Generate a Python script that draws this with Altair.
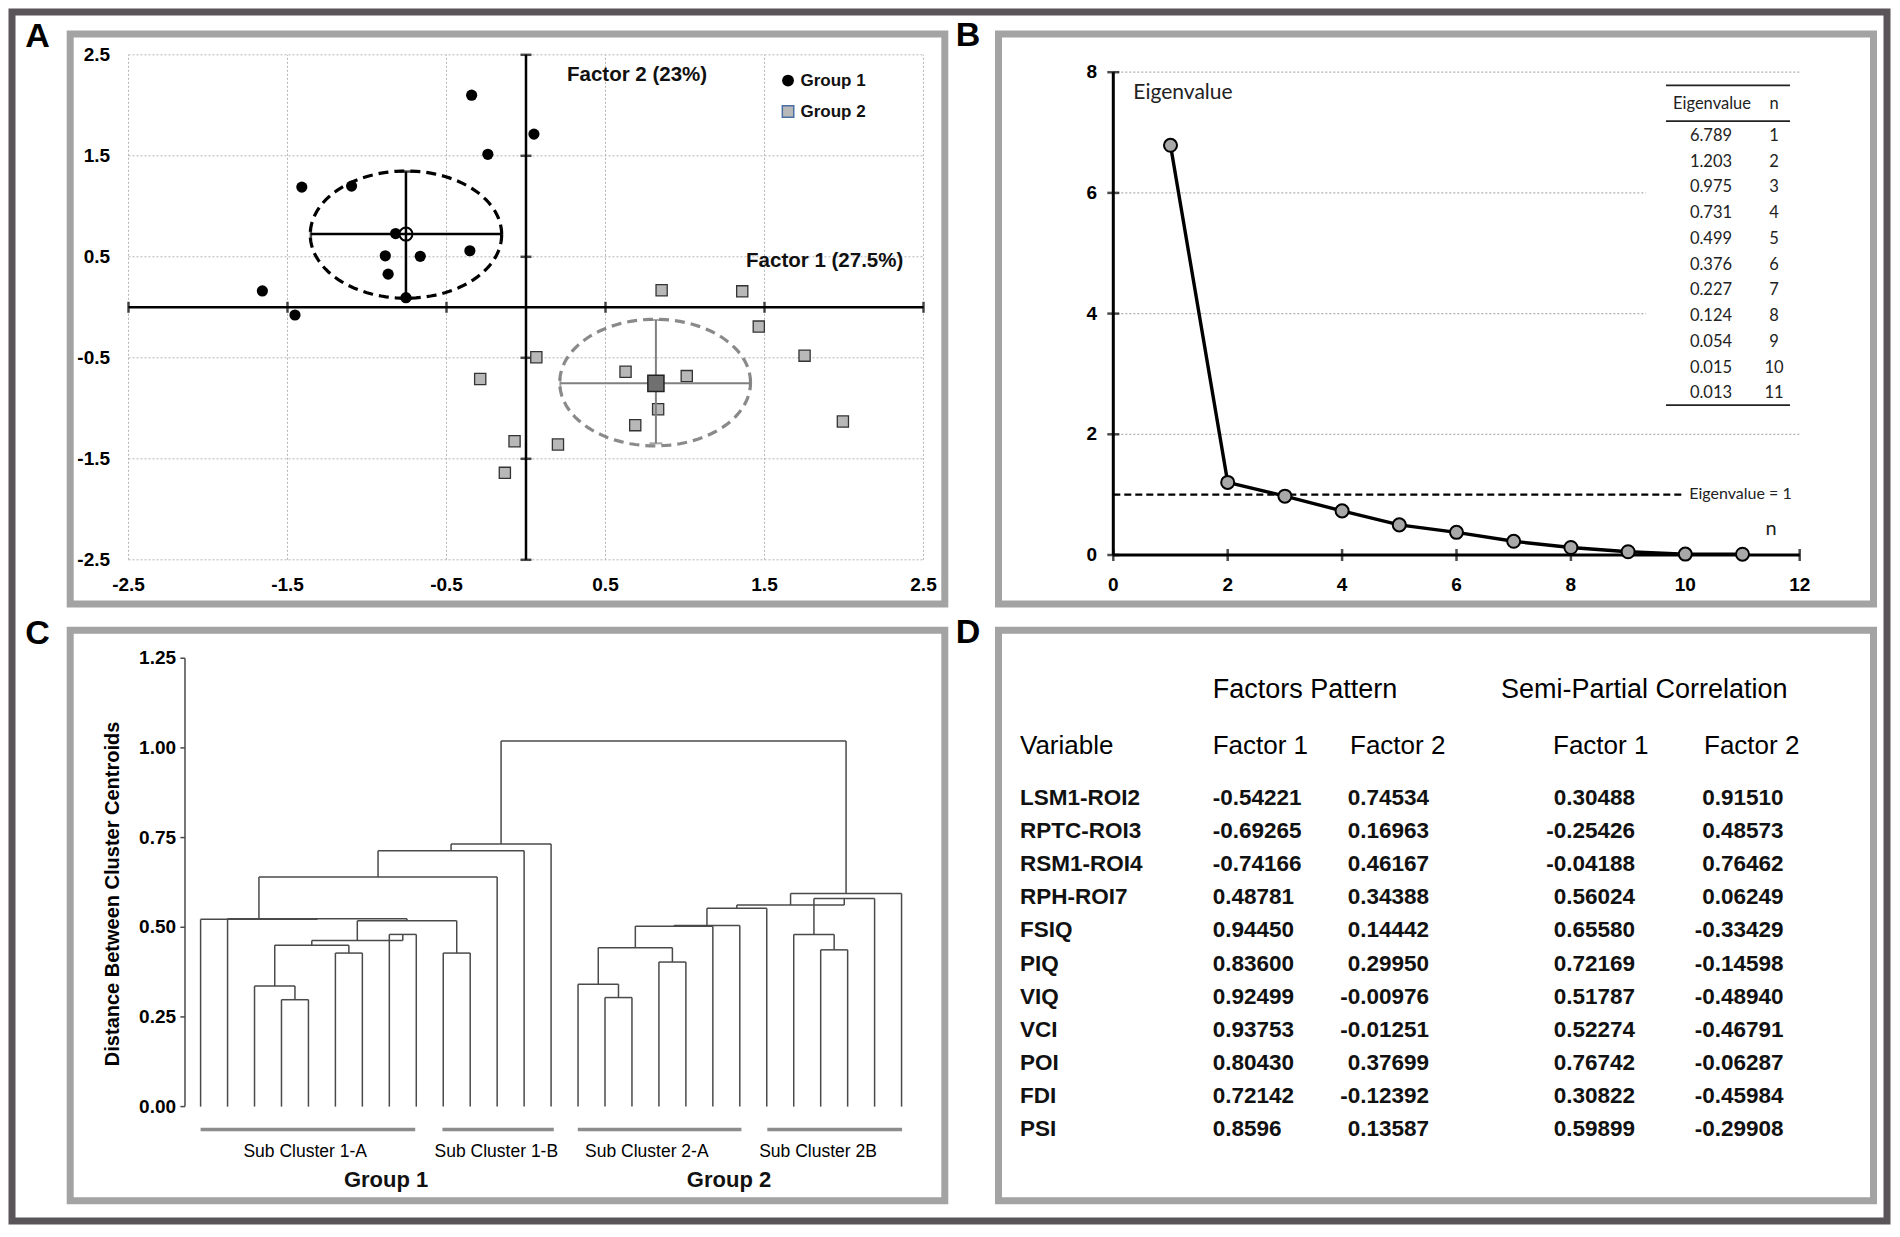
import altair as alt
import pandas as pd

# ======================= DATA =======================
# Panel A - factor scores of subjects
A_G1_X = [-0.342, 0.050, -0.240, -1.410, -1.097, -0.820, -0.885, -0.665, -0.353, -0.867, -1.658, -1.453, -0.755]
A_G1_Y = [2.100, 1.715, 1.515, 1.190, 1.200, 0.730, 0.510, 0.505, 0.560, 0.328, 0.162, -0.076, 0.095]
A_G2_X = [0.853, 1.360, 1.464, 1.752, 0.065, 0.626, 1.011, -0.288, 0.831, 0.687, 1.993, -0.072, 0.201, -0.133]
A_G2_Y = [0.169, 0.158, -0.191, -0.479, -0.494, -0.638, -0.681, -0.710, -1.009, -1.167, -1.131, -1.326, -1.358, -1.639]
A_GROUPS = ["Group 1", "Group 2"]
A_CENT_X = [-0.755, 0.817]
A_CENT_Y = [0.725, -0.753]
A_SD_X_LO = [-1.353, 0.216]
A_SD_X_HI = [-0.155, 1.410]
A_SD_Y_LO = [0.090, -1.347]
A_SD_Y_HI = [1.344, -0.126]
A_ELL_CX = [-0.755, 0.812]
A_ELL_CY = [0.720, -0.745]
A_ELL_RX = [0.602, 0.600]
A_ELL_RY = [0.630, 0.627]
A_TICKS = [-2.5, -1.5, -0.5, 0.5, 1.5, 2.5]
A_TICK_LABELS = ["-2.5", "-1.5", "-0.5", "0.5", "1.5", "2.5"]

# Panel B - scree plot
B_N = [1, 2, 3, 4, 5, 6, 7, 8, 9, 10, 11]
B_EIG = [6.789, 1.203, 0.975, 0.731, 0.499, 0.376, 0.227, 0.124, 0.054, 0.015, 0.013]
B_XTICKS = [0, 2, 4, 6, 8, 10, 12]
B_YTICKS = [0, 2, 4, 6, 8]

# Panel C - dendrogram (27 leaves; merges: child a, child b, height; new ids from 27)
C_N_LEAVES = 27
C_MERGES = [
    (3, 4, 0.298), (2, 27, 0.336), (5, 6, 0.428), (28, 29, 0.450), (7, 8, 0.480),
    (30, 31, 0.463), (9, 10, 0.428), (32, 33, 0.518), (1, 34, 0.524), (0, 35, 0.522),
    (36, 11, 0.640), (37, 12, 0.713), (38, 13, 0.732),
    (15, 16, 0.304), (14, 40, 0.341), (17, 18, 0.403), (41, 42, 0.443), (43, 19, 0.503),
    (44, 20, 0.505), (45, 21, 0.553), (23, 24, 0.437), (22, 47, 0.480), (48, 25, 0.580),
    (46, 49, 0.562), (50, 26, 0.594), (39, 51, 1.019),
]
C_YTICKS = [0.0, 0.25, 0.5, 0.75, 1.0, 1.25]
C_YTICK_LABELS = ["0.00", "0.25", "0.50", "0.75", "1.00", "1.25"]
C_SUB_LABELS = ["Sub Cluster 1-A", "Sub Cluster 1-B", "Sub Cluster 2-A", "Sub Cluster 2B"]
C_SUB_START = [0.0, 8.97, 13.99, 21.02]
C_SUB_END = [7.96, 13.10, 20.06, 26.02]
C_SUB_CENTER = [3.88, 10.97, 16.55, 22.9]
C_GROUP_LABELS = ["Group 1", "Group 2"]
C_GROUP_CENTER = [6.88, 19.6]

# Panel D - table
D_VARS = ["LSM1-ROI2", "RPTC-ROI3", "RSM1-ROI4", "RPH-ROI7", "FSIQ", "PIQ", "VIQ", "VCI", "POI", "FDI", "PSI"]
D_FP1 = ["-0.54221", "-0.69265", "-0.74166", "\u00a00.48781", "\u00a00.94450", "0.83600", "0.92499", "0.93753", "0.80430", "0.72142", "0.8596"]
D_FP2 = ["0.74534", "0.16963", "0.46167", "0.34388", "0.14442", "0.29950", "-0.00976", "-0.01251", "0.37699", "-0.12392", "0.13587"]
D_SP1 = ["0.30488", "-0.25426", "-0.04188", "0.56024", "0.65580", "0.72169", "0.51787", "0.52274", "0.76742", "0.30822", "0.59899"]
D_SP2 = ["0.91510", "0.48573", "0.76462", "0.06249", "-0.33429", "-0.14598", "-0.48940", "-0.46791", "-0.06287", "-0.45984", "-0.29908"]

# ======================= LAYOUT =======================
O = 12            # plot-area origin on the page
W, H = 1875, 1209
FONT = "Liberation Sans"
CAL = "Lato"


def sx(v0, p0, v1, p1):
    k = (v1 - v0) / (p1 - p0)
    return alt.Scale(domain=[v0 + (O - p0) * k, v0 + (O + W - p0) * k], nice=False, zero=False)


def sy(v0, p0, v1, p1):
    k = (v1 - v0) / (p1 - p0)
    return alt.Scale(domain=[v0 + (O + H - p0) * k, v0 + (O - p0) * k], nice=False, zero=False)


def qx(f, s):
    return alt.X(f, type="quantitative", scale=s, axis=None)


def qy(f, s):
    return alt.Y(f, type="quantitative", scale=s, axis=None)


def px(p):
    return alt.value(p - O)


AX = sx(0, 526, 1, 685)
AY = sy(0, 307.3, 1, 206.3)
BX = sx(0, 1113.3, 1, 1170.5)
BY = sy(0, 555, 1, 494.65)
BT = sy(0, 136, 1, 161.73)
CX = sx(0, 200.6, 1, 227.56)
CY = sy(0, 1106.6, 1, 747.9)
DY = sy(0, 798, 1, 831.1)

one = pd.DataFrame({"k": [0]})
layers = []

# ---------- panel frames and letters ----------
for (x0, x1, y0, y1) in [(70.2, 944.8, 34, 604), (998.5, 1873.5, 34, 604),
                         (70.2, 944.8, 630.3, 1200.8), (998.5, 1873.5, 630.3, 1200.8)]:
    layers.append(alt.Chart(one).mark_rect(fill="white", stroke="#a3a3a3", strokeWidth=7).encode(
        x=px(x0), x2=px(x1), y=px(y0), y2=px(y1)))
for letter, lx, ly in [("A", 37.5, 46.5), ("B", 968, 46), ("C", 37.5, 644), ("D", 968, 643)]:
    layers.append(alt.Chart(one).mark_text(text=letter, font=FONT, fontSize=34, fontWeight="bold",
                                           align="center", baseline="alphabetic", color="black").encode(
        x=px(lx), y=px(ly)))

# ======================= PANEL A =======================
gridA = pd.DataFrame({"v": A_TICKS, "lo": [-2.5] * 6, "hi": [2.5] * 6, "lab": A_TICK_LABELS})
layers.append(alt.Chart(gridA).mark_rule(color="#b5b5b5", strokeWidth=1, strokeDash=[2, 2]).encode(
    x=qx("v", AX), y=qy("lo", AY), y2="hi"))
layers.append(alt.Chart(gridA).mark_rule(color="#b5b5b5", strokeWidth=1, strokeDash=[2, 2]).encode(
    y=qy("v", AY), x=qx("lo", AX), x2="hi"))
axA = pd.DataFrame({"z": [0.0], "lo": [-2.5], "hi": [2.5]})
layers.append(alt.Chart(axA).mark_rule(color="black", strokeWidth=2.5).encode(
    x=qx("z", AX), y=qy("lo", AY), y2="hi"))
layers.append(alt.Chart(axA).mark_rule(color="black", strokeWidth=2.5).encode(
    y=qy("z", AY), x=qx("lo", AX), x2="hi"))
tkA = pd.DataFrame({"v": A_TICKS, "z": [0.0] * 6})
layers.append(alt.Chart(tkA).mark_tick(orient="vertical", size=11, thickness=2.5, color="black").encode(
    x=qx("v", AX), y=qy("z", AY)))
layers.append(alt.Chart(tkA).mark_tick(orient="horizontal", size=11, thickness=2.5, color="black").encode(
    y=qy("v", AY), x=qx("z", AX)))
labA = pd.DataFrame({"v": A_TICKS, "lab": A_TICK_LABELS, "xl": [-2.616] * 6, "yl": [-2.75] * 6})
layers.append(alt.Chart(labA).mark_text(font=FONT, fontSize=19, fontWeight="bold", align="right",
                                        baseline="middle", color="black").encode(
    x=qx("xl", AX), y=qy("v", AY), text="lab:N"))
layers.append(alt.Chart(labA).mark_text(font=FONT, fontSize=19, fontWeight="bold", align="center",
                                        baseline="middle", color="black").encode(
    x=qx("v", AX), y=qy("yl", AY), text="lab:N"))

# ellipses
for i, col in enumerate(["black", "#8a8a8a"]):
    layers.append(alt.Chart(alt.sequence(0, 361, 3, as_="t")).transform_calculate(
        ex=f"{A_ELL_CX[i]} + {A_ELL_RX[i]} * cos(datum.t * PI / 180)",
        ey=f"{A_ELL_CY[i]} + {A_ELL_RY[i]} * sin(datum.t * PI / 180)",
    ).mark_line(color=col, strokeWidth=3.2, strokeDash=[10, 6]).encode(
        x=qx("ex", AX), y=qy("ey", AY), order="t:Q"))

# points
g1 = pd.DataFrame({"x": A_G1_X, "y": A_G1_Y})
g2 = pd.DataFrame({"x": A_G2_X, "y": A_G2_Y})
layers.append(alt.Chart(g1).mark_circle(color="black", size=125, opacity=1).encode(
    x=qx("x", AX), y=qy("y", AY)))
layers.append(alt.Chart(g2).mark_square(color="#b8b8b8", stroke="#333333", strokeWidth=1.3, size=125,
                                        opacity=1).encode(x=qx("x", AX), y=qy("y", AY)))

# centroid + SD bars
for i, (col, sw) in enumerate([("black", 2.5), ("#808080", 2)]):
    cd = pd.DataFrame({"cx": [A_CENT_X[i]], "cy": [A_CENT_Y[i]],
                       "xlo": [A_SD_X_LO[i]], "xhi": [A_SD_X_HI[i]],
                       "ylo": [A_SD_Y_LO[i]], "yhi": [A_SD_Y_HI[i]]})
    if i == 0:
        layers.append(alt.Chart(cd).mark_point(shape="circle", filled=True, fill="white", stroke="black",
                                               strokeWidth=2, size=170, opacity=1).encode(
            x=qx("cx", AX), y=qy("cy", AY)))
    layers.append(alt.Chart(cd).mark_rule(color=col, strokeWidth=sw).encode(
        x=qx("xlo", AX), x2="xhi", y=qy("cy", AY)))
    layers.append(alt.Chart(cd).mark_rule(color=col, strokeWidth=sw).encode(
        y=qy("ylo", AY), y2="yhi", x=qx("cx", AX)))
    for f in ["xlo", "xhi"]:
        layers.append(alt.Chart(cd).mark_tick(orient="vertical", size=11, thickness=sw, color=col).encode(
            x=qx(f, AX), y=qy("cy", AY)))
    for f in ["ylo", "yhi"]:
        layers.append(alt.Chart(cd).mark_tick(orient="horizontal", size=13, thickness=sw, color=col).encode(
            y=qy(f, AY), x=qx("cx", AX)))
    if i == 1:
        layers.append(alt.Chart(cd).mark_square(color="#707070", stroke="#222222", strokeWidth=1.5,
                                                size=260, opacity=1).encode(
            x=qx("cx", AX), y=qy("cy", AY)))

# axis titles and legend
labs = pd.DataFrame({"t": ["Factor 2 (23%)", "Factor 1 (27.5%)"], "x": [0.258, 1.384], "y": [2.30, 0.458]})
layers.append(alt.Chart(labs).mark_text(font=FONT, fontSize=20.5, fontWeight="bold", align="left",
                                        baseline="middle", color="#111111").encode(
    x=qx("x", AX), y=qy("y", AY), text="t:N"))
leg = pd.DataFrame({"g": A_GROUPS, "x": [1.648, 1.648], "tx": [1.726, 1.726], "y": [2.245, 1.938]})
layers.append(alt.Chart(leg.iloc[[0]]).mark_circle(color="black", size=140, opacity=1).encode(
    x=qx("x", AX), y=qy("y", AY)))
layers.append(alt.Chart(leg.iloc[[1]]).mark_square(color="#b8b8b8", stroke="#4a6fa5", strokeWidth=1.5,
                                                   size=130, opacity=1).encode(
    x=qx("x", AX), y=qy("y", AY)))
layers.append(alt.Chart(leg).mark_text(font=FONT, fontSize=17, fontWeight="bold", align="left",
                                       baseline="middle", color="#111111").encode(
    x=qx("tx", AX), y=qy("y", AY), text="g:N"))

# ======================= PANEL B =======================
gB1 = pd.DataFrame({"v": [2, 8], "lo": [0, 0], "hi": [12, 12]})
gB2 = pd.DataFrame({"v": [4, 6], "lo": [0, 0], "hi": [9.31, 9.31]})
for g in [gB1, gB2]:
    layers.append(alt.Chart(g).mark_rule(color="#b0b0b0", strokeWidth=1.2, strokeDash=[2, 2]).encode(
        y=qy("v", BY), x=qx("lo", BX), x2="hi"))
layers.append(alt.Chart(pd.DataFrame({"v": [1], "lo": [0], "hi": [9.94]})).mark_rule(
    color="black", strokeWidth=2.2, strokeDash=[7, 4]).encode(y=qy("v", BY), x=qx("lo", BX), x2="hi"))
axB = pd.DataFrame({"z": [0], "xhi": [12], "yhi": [8]})
layers.append(alt.Chart(axB).mark_rule(color="black", strokeWidth=3).encode(
    y=qy("z", BY), x=qx("z", BX), x2="xhi"))
layers.append(alt.Chart(axB).mark_rule(color="black", strokeWidth=3).encode(
    x=qx("z", BX), y=qy("z", BY), y2="yhi"))
bxt = pd.DataFrame({"v": B_XTICKS, "z": [0] * len(B_XTICKS), "yl": [-0.497] * len(B_XTICKS),
                    "lab": [str(v) for v in B_XTICKS]})
byt = pd.DataFrame({"v": B_YTICKS, "z": [0] * len(B_YTICKS), "xl": [-0.285] * len(B_YTICKS),
                    "lab": [str(v) for v in B_YTICKS]})
layers.append(alt.Chart(bxt).mark_tick(orient="vertical", size=12, thickness=2.5, color="black").encode(
    x=qx("v", BX), y=qy("z", BY)))
layers.append(alt.Chart(byt).mark_tick(orient="horizontal", size=12, thickness=2.5, color="black").encode(
    y=qy("v", BY), x=qx("z", BX)))
layers.append(alt.Chart(bxt).mark_text(font=FONT, fontSize=19, fontWeight="bold", align="center",
                                       baseline="middle", color="black").encode(
    x=qx("v", BX), y=qy("yl", BY), text="lab:N"))
layers.append(alt.Chart(byt).mark_text(font=FONT, fontSize=19, fontWeight="bold", align="right",
                                       baseline="middle", color="black").encode(
    x=qx("xl", BX), y=qy("v", BY), text="lab:N"))
scree = pd.DataFrame({"n": B_N, "e": B_EIG})
layers.append(alt.Chart(scree).mark_line(color="black", strokeWidth=3.4).encode(
    x=qx("n", BX), y=qy("e", BY), order="n:Q"))
layers.append(alt.Chart(scree).mark_circle(color="#a8a8a8", stroke="black", strokeWidth=2, size=170,
                                           opacity=1).encode(x=qx("n", BX), y=qy("e", BY)))
btxt = pd.DataFrame({"t": ["Eigenvalue", "Eigenvalue = 1", "n"], "x": [0.35, 10.07, 11.4],
                     "y": [7.66, 1.018, 0.43], "s": [21, 16, 20]})
layers.append(alt.Chart(btxt).mark_text(font=CAL, align="left", baseline="middle", color="#222222").encode(
    x=qx("x", BX), y=qy("y", BY), text="t:N", size=alt.Size("s:Q", scale=None, legend=None)))

# table in B
tab = pd.DataFrame({"r": list(range(11)), "e": [f"{v:.3f}" for v in B_EIG], "n": [str(v) for v in B_N]})
layers.append(alt.Chart(tab).mark_text(font=CAL, fontSize=16.5, align="center", baseline="middle",
                                       color="#222222").encode(x=px(1711), y=qy("r", BT), text="e:N"))
layers.append(alt.Chart(tab).mark_text(font=CAL, fontSize=16.5, align="center", baseline="middle",
                                       color="#222222").encode(x=px(1774), y=qy("r", BT), text="n:N"))
hdr = pd.DataFrame({"r": [-1.225], "a": ["Eigenvalue"], "b": ["n"]})
layers.append(alt.Chart(hdr).mark_text(font=CAL, fontSize=16.5, align="center", baseline="middle",
                                       color="#222222").encode(x=px(1712), y=qy("r", BT), text="a:N"))
layers.append(alt.Chart(hdr).mark_text(font=CAL, fontSize=16.5, align="center", baseline="middle",
                                       color="#222222").encode(x=px(1774), y=qy("r", BT), text="b:N"))
tr = pd.DataFrame({"r": [-1.97, -0.576, 10.46]})
layers.append(alt.Chart(tr).mark_rule(color="#222222", strokeWidth=1.8).encode(
    y=qy("r", BT), x=px(1666), x2=px(1790)))

# ======================= PANEL C =======================
pos = {i: (float(i), 0.0) for i in range(C_N_LEAVES)}
segs = []
for k, (a, b, h) in enumerate(C_MERGES):
    xa, ha = pos[a]
    xb, hb = pos[b]
    segs.append((xa, ha, xa, h))
    segs.append((xb, hb, xb, h))
    segs.append((xa, h, xb, h))
    pos[C_N_LEAVES + k] = ((xa + xb) / 2, h)
segdf = pd.DataFrame(segs, columns=["x", "y", "x2", "y2"])
layers.append(alt.Chart(segdf).mark_rule(color="#4a4a4a", strokeWidth=1.5).encode(
    x=qx("x", CX), y=qy("y", CY), x2="x2", y2="y2"))
cax = pd.DataFrame({"x": [-0.579], "lo": [0.0], "hi": [1.25]})
layers.append(alt.Chart(cax).mark_rule(color="#4a4a4a", strokeWidth=1.5).encode(
    x=qx("x", CX), y=qy("lo", CY), y2="hi"))
cyt = pd.DataFrame({"v": C_YTICKS, "a": [-0.75] * 6, "b": [-0.579] * 6, "xl": [-0.91] * 6,
                    "lab": C_YTICK_LABELS})
layers.append(alt.Chart(cyt).mark_rule(color="#4a4a4a", strokeWidth=1.5).encode(
    y=qy("v", CY), x=qx("a", CX), x2="b"))
layers.append(alt.Chart(cyt).mark_text(font=FONT, fontSize=19, fontWeight="bold", align="right",
                                       baseline="middle", color="black").encode(
    x=qx("xl", CX), y=qy("v", CY), text="lab:N"))
layers.append(alt.Chart(pd.DataFrame({"t": ["Distance Between Cluster Centroids"], "x": [-3.257],
                                      "y": [0.593]})).mark_text(
    font=FONT, fontSize=20, fontWeight="bold", angle=270, align="center", baseline="middle",
    color="black").encode(x=qx("x", CX), y=qy("y", CY), text="t:N"))
subs = pd.DataFrame({"t": C_SUB_LABELS, "a": C_SUB_START, "b": C_SUB_END, "c": C_SUB_CENTER,
                     "yb": [-0.064] * 4, "yt": [-0.127] * 4})
layers.append(alt.Chart(subs).mark_rule(color="#8c8c8c", strokeWidth=3.5).encode(
    x=qx("a", CX), x2="b", y=qy("yb", CY)))
layers.append(alt.Chart(subs).mark_text(font=FONT, fontSize=17.5, align="center", baseline="middle",
                                        color="black").encode(
    x=qx("c", CX), y=qy("yt", CY), text="t:N"))
grps = pd.DataFrame({"t": C_GROUP_LABELS, "c": C_GROUP_CENTER, "y": [-0.206, -0.206]})
layers.append(alt.Chart(grps).mark_text(font=FONT, fontSize=22, fontWeight="bold", align="center",
                                        baseline="middle", color="#111111").encode(
    x=qx("c", CX), y=qy("y", CY), text="t:N"))

# ======================= PANEL D =======================
dhead = pd.DataFrame({"r": [-3.263, -3.263], "t": ["Factors Pattern", "Semi-Partial Correlation"]})
layers.append(alt.Chart(dhead.iloc[[0]]).mark_text(font=FONT, fontSize=27, align="left", baseline="middle",
                                                   color="black").encode(
    x=px(1212.7), y=qy("r", DY), text="t:N"))
layers.append(alt.Chart(dhead.iloc[[1]]).mark_text(font=FONT, fontSize=27, align="left", baseline="middle",
                                                   color="black").encode(
    x=px(1501), y=qy("r", DY), text="t:N"))
colhdr = [("Variable", 1020), ("Factor 1", 1212.7), ("Factor 2", 1350), ("Factor 1", 1553), ("Factor 2", 1704)]
for t, xx in colhdr:
    layers.append(alt.Chart(pd.DataFrame({"r": [-1.586], "t": [t]})).mark_text(
        font=FONT, fontSize=26, align="left", baseline="middle", color="black").encode(
        x=px(xx), y=qy("r", DY), text="t:N"))
dtab = pd.DataFrame({"r": list(range(11)), "v": D_VARS, "f1": D_FP1, "f2": D_FP2, "s1": D_SP1, "s2": D_SP2})
for f, xx, al in [("v", 1020, "left"), ("f1", 1212.7, "left"), ("f2", 1429, "right"),
                  ("s1", 1635, "right"), ("s2", 1783.5, "right")]:
    layers.append(alt.Chart(dtab).mark_text(font=FONT, fontSize=22.5, fontWeight="bold", align=al,
                                            baseline="middle", color="#111111").encode(
        x=px(xx), y=qy("r", DY), text=f"{f}:N"))

chart = alt.layer(*layers).resolve_scale(x="independent", y="independent").properties(
    width=W, height=H, padding={"left": 4, "top": 4, "right": 4, "bottom": 4}, background="white"
).configure_view(stroke="#5a5558", strokeWidth=7)

chart.save("out.html", embed_options={"renderer": "svg", "actions": False})
